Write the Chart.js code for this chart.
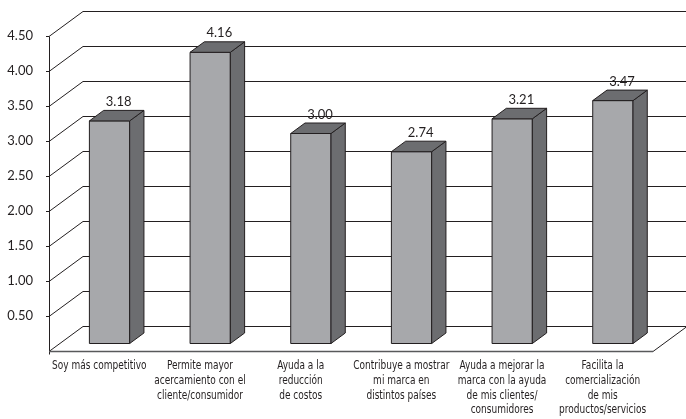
<!DOCTYPE html>
<html>
<head>
<meta charset="utf-8">
<script src="https://cdn.jsdelivr.net/npm/chart.js@4"></script>
<style>
  html, body { margin: 0; padding: 0; background: #ffffff; }
  #wrap { width: 686px; height: 419px; position: relative; }
</style>
</head>
<body>
<div id="wrap"><canvas id="chart" width="686" height="419"></canvas></div>
<script>
// Categories (multi-line labels), values and axis ticks
const categories = [
  ["Soy más competitivo"],
  ["Permite mayor", "acercamiento con el", "cliente/consumidor"],
  ["Ayuda a la", "reducción", "de costos"],
  ["Contribuye a mostrar", "mi marca en", "distintos países"],
  ["Ayuda a mejorar la", "marca con la ayuda", "de mis clientes/", "consumidores"],
  ["Facilita la", "comercialización", "de mis", "productos/servicios"]
];
const values = [3.18, 4.16, 3.00, 2.74, 3.21, 3.47];
const yTicks = [0, 0.5, 1, 1.5, 2, 2.5, 3, 3.5, 4, 4.5];

// Pseudo-3D geometry: depth of the floor and slice occupied by the boxes
const DEPTH_X = 34, DEPTH_Y = -25;
const BAR_NEAR = 0.3, BAR_FAR = 0.72;
const FRONT_COLOR = '#a7a8ab';
const SIDE_COLOR = '#6c6d70';
const LINE_COLOR = '#231f20';
const TEXT_COLOR = '#231f20';

const numFont = 'Lato, "Open Sans", sans-serif';
const narrowFont = '"DejaVu Sans Condensed", "DejaVu Sans", sans-serif';
const NARROW_SCALE = 0.8;   // horizontal squeeze for the category captions

// Back wall, left wall and floor drawn in perspective from the y scale ticks
const wallsPlugin = {
  id: 'walls',
  beforeDatasetsDraw(chart) {
    const ctx = chart.ctx;
    const y = chart.scales.y;
    const area = chart.chartArea;
    const left = area.left, right = area.right;
    ctx.save();
    ctx.strokeStyle = LINE_COLOR;
    ctx.lineWidth = 1;
    yTicks.forEach(v => {
      const py = Math.round(y.getPixelForValue(v)) + 0.5;
      ctx.beginPath();
      // left wall diagonal
      ctx.moveTo(left, py);
      ctx.lineTo(left + DEPTH_X, py + DEPTH_Y);
      // back wall horizontal
      ctx.lineTo(right + DEPTH_X, py + DEPTH_Y);
      ctx.stroke();
      // tick mark on the front axis
      if (v > 0) {
        ctx.beginPath();
        ctx.moveTo(left - 3, py);
        ctx.lineTo(left, py);
        ctx.stroke();
      }
    });
    const top = Math.round(y.getPixelForValue(yTicks[yTicks.length - 1])) + 0.5;
    const base = Math.round(y.getPixelForValue(0)) + 0.5;
    // front vertical axis
    ctx.beginPath();
    ctx.moveTo(left + 0.5, top);
    ctx.lineTo(left + 0.5, base + 3);
    ctx.stroke();
    // floor right edge
    ctx.beginPath();
    ctx.moveTo(right, base);
    ctx.lineTo(right + DEPTH_X, base + DEPTH_Y);
    ctx.stroke();
    // floor front edge
    ctx.strokeStyle = '#58595b';
    ctx.lineWidth = 1.6;
    ctx.beginPath();
    ctx.moveTo(left, base);
    ctx.lineTo(right, base);
    ctx.stroke();
    ctx.restore();
  },
  afterDatasetsDraw(chart) {
    const ctx = chart.ctx;
    const meta = chart.getDatasetMeta(0);
    const nx = BAR_NEAR * DEPTH_X, ny = BAR_NEAR * DEPTH_Y;
    const bx = (BAR_FAR - BAR_NEAR) * DEPTH_X, by = (BAR_FAR - BAR_NEAR) * DEPTH_Y;
    ctx.save();
    ctx.lineWidth = 1;
    ctx.strokeStyle = LINE_COLOR;
    ctx.lineJoin = 'round';
    meta.data.forEach((bar, i) => {
      const p = bar.getProps(['x', 'y', 'base', 'width'], true);
      const x0 = p.x - p.width / 2 + nx;
      const x1 = p.x + p.width / 2 + nx;
      const yt = p.y + ny;
      const yb = p.base + ny;
      // front face
      ctx.fillStyle = FRONT_COLOR;
      ctx.beginPath();
      ctx.rect(x0, yt, x1 - x0, yb - yt);
      ctx.fill();
      ctx.stroke();
      // side face
      ctx.fillStyle = SIDE_COLOR;
      ctx.beginPath();
      ctx.moveTo(x1, yt);
      ctx.lineTo(x1 + bx, yt + by);
      ctx.lineTo(x1 + bx, yb + by);
      ctx.lineTo(x1, yb);
      ctx.closePath();
      ctx.fill();
      ctx.stroke();
      // top face
      ctx.beginPath();
      ctx.moveTo(x0, yt);
      ctx.lineTo(x0 + bx, yt + by);
      ctx.lineTo(x1 + bx, yt + by);
      ctx.lineTo(x1, yt);
      ctx.closePath();
      ctx.fill();
      ctx.stroke();
      // value label
      ctx.fillStyle = TEXT_COLOR;
      ctx.font = '13px ' + numFont;
      ctx.textAlign = 'center';
      ctx.textBaseline = 'bottom';
      ctx.fillText(values[i].toFixed(2), (x0 + x1) / 2 + bx / 2 + 2, yt + by - 2);
    });
    ctx.restore();
  },
  // condensed category captions placed at the x scale tick positions
  afterDraw(chart) {
    const ctx = chart.ctx;
    const x = chart.scales.x;
    const lineH = 14.7;
    const firstY = chart.chartArea.bottom + 15;
    ctx.save();
    ctx.fillStyle = TEXT_COLOR;
    ctx.font = '12.5px ' + narrowFont;
    ctx.textAlign = 'center';
    ctx.textBaseline = 'middle';
    categories.forEach((lines, i) => {
      const cx = x.getPixelForTick(i);
      lines.forEach((line, j) => {
        ctx.save();
        ctx.translate(cx, firstY + j * lineH);
        ctx.scale(NARROW_SCALE, 1);
        ctx.fillText(line, 0, 0);
        ctx.restore();
      });
    });
    ctx.restore();
  }
};

new Chart(document.getElementById('chart'), {
  type: 'bar',
  data: {
    labels: categories,
    datasets: [{
      data: values,
      backgroundColor: 'rgba(0,0,0,0)',
      borderWidth: 0,
      categoryPercentage: 1,
      barPercentage: 0.4
    }]
  },
  options: {
    responsive: false,
    animation: false,
    events: [],
    layout: { padding: { top: 36, right: 33, left: 0, bottom: 0 } },
    plugins: { legend: { display: false }, tooltip: { enabled: false } },
    scales: {
      x: {
        grid: { display: false, drawTicks: false },
        border: { display: false },
        ticks: { display: false },
        afterFit(scale) { scale.height = 68; }
      },
      y: {
        min: 0,
        max: 4.5,
        grid: { display: false, drawTicks: false },
        border: { display: false },
        afterBuildTicks(scale) { scale.ticks = yTicks.map(v => ({ value: v })); },
        ticks: {
          padding: 16,
          color: TEXT_COLOR,
          font: { family: numFont, size: 13 },
          callback: v => (v === 0 ? '' : Number(v).toFixed(2))
        },
        afterFit(scale) { scale.width = 49; }
      }
    }
  },
  plugins: [wallsPlugin]
});
</script>
</body>
</html>
